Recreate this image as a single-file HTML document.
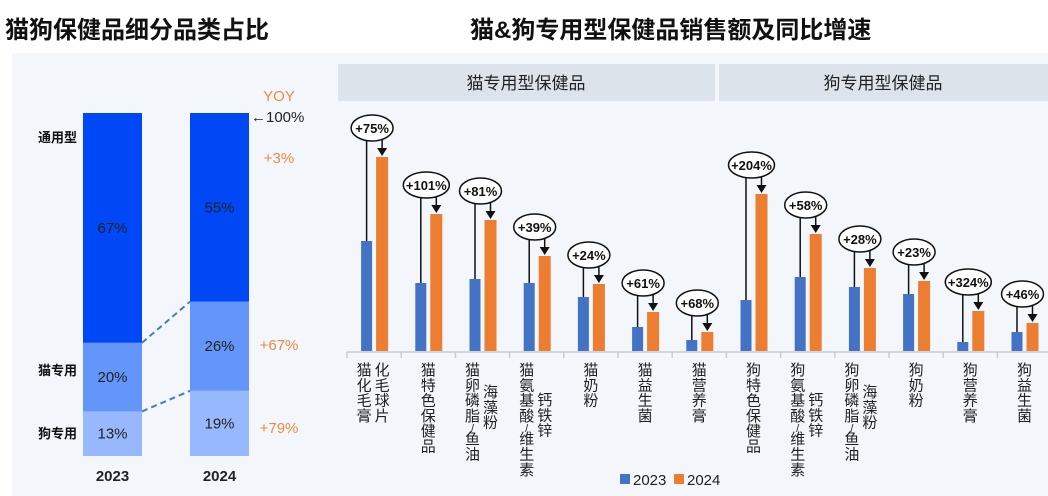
<!DOCTYPE html>
<html><head><meta charset="utf-8">
<style>
body{margin:0;width:1048px;height:496px;overflow:hidden;background:#fff;font-family:"Liberation Sans","Noto Sans CJK SC",sans-serif;}
svg{display:block}
</style></head>
<body>
<svg width="1048" height="496" viewBox="0 0 1048 496" xmlns="http://www.w3.org/2000/svg" font-family="Liberation Sans, Noto Sans CJK SC, sans-serif">
<rect x="12" y="53" width="1036" height="443" fill="#f3f7fc"/>
<text x="5" y="38" font-size="24" fill="#111" font-weight="bold">猫狗保健品细分品类占比</text>
<text x="470" y="38" font-size="24" fill="#111" font-weight="bold">猫&amp;狗专用型保健品销售额及同比增速</text>
<rect x="338" y="64" width="377" height="37" fill="#dde3ea"/>
<text x="526" y="89" font-size="17" text-anchor="middle" fill="#222">猫专用型保健品</text>
<rect x="719" y="64" width="329" height="37" fill="#dde3ea"/>
<text x="883" y="89" font-size="17" text-anchor="middle" fill="#222">狗专用型保健品</text>
<g id="left"></g>
<g id="right"></g>
<g>
<rect x="620" y="474" width="10" height="10" fill="#4472c4"/>
<text x="633" y="485" font-size="15" fill="#222">2023</text>
<rect x="674" y="474" width="10" height="10" fill="#ed7d31"/>
<text x="687" y="485" font-size="15" fill="#222">2024</text>
</g>
</svg>
<script>
const NS='http://www.w3.org/2000/svg';
function mk(p,tag,attrs,txt){const e=document.createElementNS(NS,tag);for(const k in attrs)e.setAttribute(k,attrs[k]);if(txt!==undefined)e.textContent=txt;p.appendChild(e);return e;}

// Left stacked chart data
const stackYears=['2023','2024'];
const stackGeneral=[67,55];
const stackCat=[20,26];
const stackDog=[13,19];
const stackYoy=['+3%','+67%','+79%'];
const segNames=['通用型','猫专用','狗专用'];

// Right chart data
const categories=[['猫化毛膏','化毛球片'],['猫特色保健品'],['猫卵磷脂/鱼油','海藻粉'],['猫氨基酸/维生素','钙铁锌'],['猫奶粉'],['猫益生菌'],['猫营养膏'],
['狗特色保健品'],['狗氨基酸/维生素','钙铁锌'],['狗卵磷脂/鱼油','海藻粉'],['狗奶粉'],['狗营养膏'],['狗益生菌']];
const values2023=[110,68,72,68,54,24,11,51,74,64,57,9,19];
const values2024=[194,137,131,95,67,39,19,157,117,83,70,40,28];
const growthLabels=['+75%','+101%','+81%','+39%','+24%','+61%','+68%','+204%','+58%','+28%','+23%','+324%','+46%'];

// left
const L=document.getElementById('left');
const top0=113,bot0=456,H=bot0-top0;
const barX=[83,190],barW=59;
const colors=['#0047f5','#6496fa','#98b8fd'];
const ys=v=>top0+H*(1-v/100);
const stacks=[];
for(let i=0;i<2;i++){
  const segs=[stackDog[i],stackCat[i],stackGeneral[i]];
  let acc=0;const b=[];
  const order=[2,1,0];
  segs.forEach((v,j)=>{
    const y1=ys(acc+v),y0=ys(acc);
    const r=mk(L,'rect',{x:barX[i],y:y1,width:barW,height:y0-y1,fill:colors[order[j]]});
    
    
    const t=mk(L,'text',{x:barX[i]+barW/2,y:(y0+y1)/2+5,'font-size':15,'text-anchor':'middle',fill:'#222'},v+'%');
    
    
    acc+=v;b.push(y1);
  });
  stacks.push(b);
  const yt=mk(L,'text',{x:barX[i]+barW/2,y:481,'font-size':15,'font-weight':'bold','text-anchor':'middle',fill:'#222'},stackYears[i]);
  
  
}
for(let j=0;j<2;j++){
  const ln=mk(L,'line',{x1:barX[0]+barW,y1:stacks[0][j],x2:barX[1],y2:stacks[1][j],stroke:'#4a78d0','stroke-width':2,'stroke-dasharray':'6,4'});
  
  
}
segNames.forEach((n,j)=>{
  const t=mk(L,'text',{x:77,y:[142,375,438][j],'font-size':13,'font-weight':'bold','text-anchor':'end',fill:'#111'},n);
  
  
});
const yoyT=mk(L,'text',{x:279,y:101,'font-size':15,'text-anchor':'middle',fill:'#ed8a3f'},'YOY');


const hT=mk(L,'text',{x:251,y:122,'font-size':15,fill:'#222'},'←100%');


stackYoy.forEach((s,j)=>{
  const t=mk(L,'text',{x:279,y:[163,350,433][j],'font-size':15,'text-anchor':'middle',fill:'#ed8a3f'},s);
  
  
});

// right
const R=document.getElementById('right');
const base=351,x0=347,step=54.2;
const cx=i=>x0+step*(i+0.5);
const yv=v=>base-v;
const ax=mk(R,'line',{x1:x0,y1:base+1,x2:1048,y2:base+1,stroke:'#c8ccd2','stroke-width':1.5});


for(let i=0;i<=categories.length;i++){
  const tk=mk(R,'line',{x1:x0+step*i,y1:base+1,x2:x0+step*i,y2:base+7,stroke:'#c8ccd2','stroke-width':1.5});
  
  
}
categories.forEach((cat,i)=>{
  const c=cx(i);
  const b=mk(R,'rect',{x:c-13,y:yv(values2023[i]),width:11,height:values2023[i],fill:'#4472c4'});
  
  
  const o=mk(R,'rect',{x:c+2,y:yv(values2024[i]),width:12,height:values2024[i],fill:'#ed7d31'});
  
  
  const ey=yv(values2024[i])-29;
  const g=mk(R,'g',{});
  
  
  mk(g,'line',{x1:c-7.5,y1:ey+12,x2:c-7.5,y2:yv(values2023[i]),stroke:'#111','stroke-width':1.5});
  mk(g,'line',{x1:c+8,y1:ey+12,x2:c+8,y2:yv(values2024[i])-8,stroke:'#111','stroke-width':1.5});
  mk(g,'polygon',{points:`${c+3},${yv(values2024[i])-9} ${c+13},${yv(values2024[i])-9} ${c+8},${yv(values2024[i])-1}`,fill:'#111'});
  mk(g,'ellipse',{cx:c-2,cy:ey,rx:growthLabels[i].length>4?23:21,ry:13,fill:'#fff',stroke:'#111','stroke-width':1.5});
  mk(g,'text',{x:c-2,y:ey+5,'font-size':13,'font-weight':'bold','text-anchor':'middle',fill:'#111'},growthLabels[i]);
  cat.forEach((col,k)=>{
    const two=cat.length>1;
    const lx=two?(k===0?c-10:c+8):c;
    let sy=362;
    if(two&&k===1) sy=(i===0)?362:(col==='海藻粉'?384:392);
    const t=mk(R,'text',{'font-size':15,fill:'#222','text-anchor':'middle'});
    
    
    let y=sy+13;
    [...col].forEach((ch)=>{
      if(ch==='/'){
        mk(t,'tspan',{x:lx,y:y-4,'font-size':11},'/');
        y+=8;
      } else {
        mk(t,'tspan',{x:lx,y:y},ch);
        y+=15.3;
      }
    });
  });
});
</script>
</body></html>
